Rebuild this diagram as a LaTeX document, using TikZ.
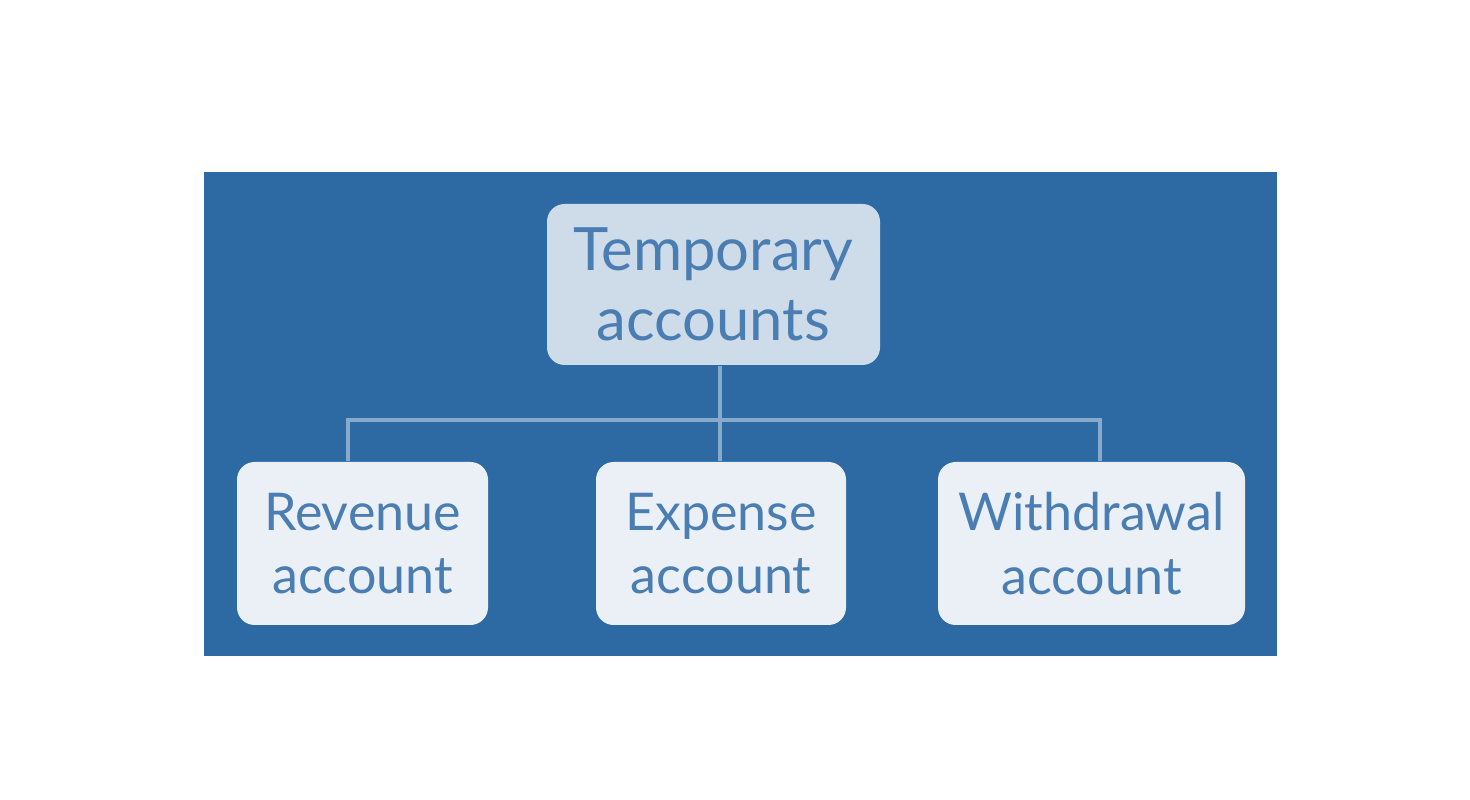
\documentclass[tikz,border=0pt]{standalone}
\usepackage{fontspec}
\setmainfont{Lato}
\definecolor{bgblue}{HTML}{2D6AA3}
\definecolor{topfill}{HTML}{CDDCE8}
\definecolor{childfill}{HTML}{EBF0F6}
\definecolor{txtblue}{HTML}{4A7DB1}
\definecolor{linecol}{HTML}{86A9CC}
\tikzset{
  box/.style={rounded corners=5pt, draw=none, align=center, text=txtblue, inner sep=0pt},
  topbox/.style={box, fill=topfill, minimum width=3.33cm, minimum height=1.61cm, font=\fontsize{17}{20}\selectfont},
  childbox/.style={box, fill=childfill, minimum height=1.63cm, font=\fontsize{14.8}{18}\selectfont},
  conn/.style={draw=linecol, line width=1.1pt}
}
\begin{document}
\begin{tikzpicture}
\useasboundingbox (0,0) rectangle (14.7,8);
\fill[bgblue] (2.04,1.44) rectangle (12.77,6.28);
\node[topbox] (top) at (7.135,5.155) {Temporary\\accounts};
\node[childbox, minimum width=2.51cm] (rev) at (3.625,2.565) {Revenue\\account};
\node[childbox, minimum width=2.50cm] (exp) at (7.21,2.565) {Expense\\account};
\node[childbox, minimum width=3.07cm] (wd) at (10.915,2.565) {Withdrawal\\account};
\coordinate (bus) at (7.2,3.8);
\draw[conn] (top.south -| bus) -- (exp.north -| bus);
\draw[conn] ([xshift=-0.145cm]rev.north) |- (bus) -| ([xshift=0.085cm]wd.north);
\end{tikzpicture}
\end{document}
